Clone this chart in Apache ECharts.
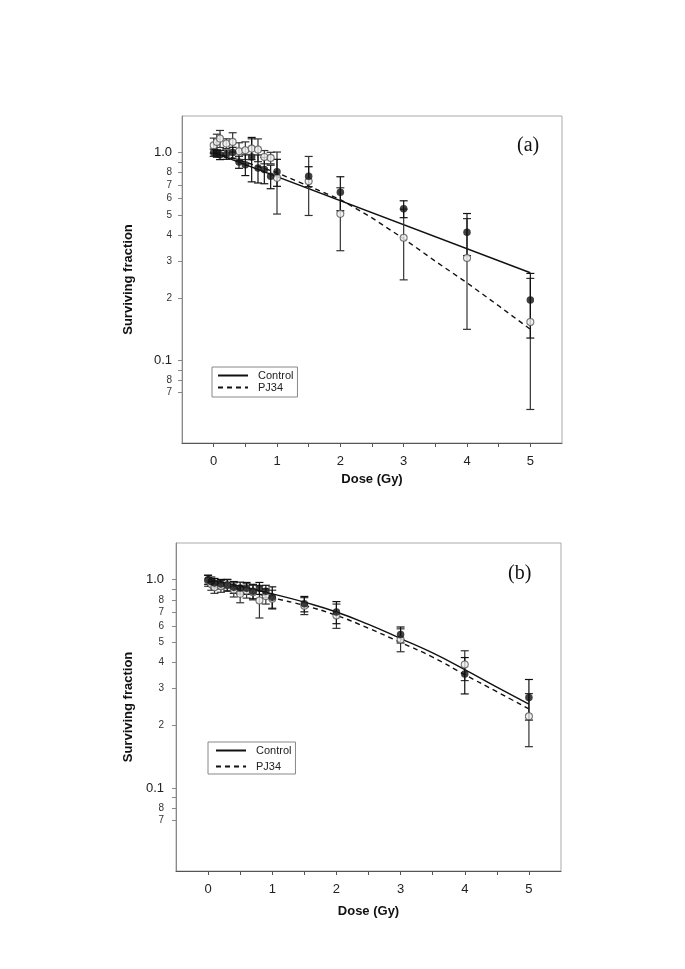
<!DOCTYPE html>
<html>
<head>
<meta charset="utf-8">
<script src="https://cdn.jsdelivr.net/npm/echarts@6/dist/echarts.min.js"></script>
<style>
html,body{margin:0;padding:0;background:#fff;}
#chart{width:685px;height:969px;}
</style>
</head>
<body>
<div id="chart"></div>
<script>
// ---------- data ----------
const doses = [0, 0.05, 0.1, 0.2, 0.3, 0.4, 0.5, 0.6, 0.7, 0.8, 0.9, 1.0, 1.5, 2, 3, 4, 5];

// panel (a)
const ctrlA    = [1.0, 0.99, 0.975, 0.978, 1.0, 0.90, 0.875, 0.953, 0.844, 0.828, 0.77, 0.808, 0.77, 0.645, 0.536, 0.414, 0.195];
const ctrlErrA = [0.04, 0.04, 0.05, 0.05, 0.06, 0.06, 0.10, 0.23, 0.13, 0.12, 0.10, 0.12, 0.085, 0.12, 0.05, 0.095, 0.067];
const pjA      = [1.084, 1.126, 1.168, 1.105, 1.126, 1.015, 1.026, 1.045, 1.034, 0.953, 0.943, 0.756, 0.728, 0.507, 0.389, 0.311, 0.153];
const pjErrA   = [0.09, 0.10, 0.11, 0.06, 0.12, 0.10, 0.10, 0.12, 0.13, 0.07, 0.06, 0.25, 0.23, 0.17, 0.145, 0.17, 0.095];

// panel (b)
const ctrlB    = [1.0, 0.98, 0.964, 0.953, 0.944, 0.92, 0.913, 0.91, 0.88, 0.91, 0.88, 0.824, 0.766, 0.70, 0.545, 0.353, 0.272];
const ctrlErrB = [0.05, 0.05, 0.05, 0.05, 0.06, 0.06, 0.06, 0.06, 0.07, 0.06, 0.06, 0.10, 0.065, 0.085, 0.048, 0.07, 0.06];
const pjB      = [0.99, 0.95, 0.92, 0.93, 0.94, 0.896, 0.855, 0.886, 0.87, 0.795, 0.834, 0.81, 0.75, 0.674, 0.516, 0.392, 0.221];
const pjErrB   = [0.06, 0.06, 0.06, 0.06, 0.06, 0.07, 0.08, 0.07, 0.07, 0.14, 0.07, 0.08, 0.07, 0.09, 0.065, 0.064, 0.063];

// fitted curves
const fitDosesA  = [0, 5];
const fitCtrlA   = [1.0, 0.264];
const fitDoses   = [0, 0.5, 1, 1.5, 2, 2.5, 3, 3.5, 4, 4.5, 5];
const fitPjA     = [1.0, 0.90, 0.80, 0.69, 0.594, 0.485, 0.385, 0.30, 0.236, 0.183, 0.141];
const fitCtrlB   = [1.0, 0.93, 0.855, 0.78, 0.70, 0.61, 0.522, 0.445, 0.37, 0.305, 0.253];
const fitPjB     = [0.98, 0.90, 0.82, 0.752, 0.674, 0.585, 0.50, 0.425, 0.35, 0.29, 0.24];

// axes
const xTickLabels = [0, 1, 2, 3, 4, 5];
const xTicks      = [0, 0.5, 1, 1.5, 2, 2.5, 3, 3.5, 4, 4.5, 5];
const yTickLabels = [1, 0.8, 0.7, 0.6, 0.5, 0.4, 0.3, 0.2, 0.1, 0.08, 0.07];
const yTicks      = [1, 0.9, 0.8, 0.7, 0.6, 0.5, 0.4, 0.3, 0.2, 0.1, 0.09, 0.08, 0.07];
const legendNames = ['Control', 'PJ34'];
const panelLabels = ['(a)', '(b)'];

// ---------- helpers ----------
const pairs = (xs, ys) => xs.map((x, i) => [x, ys[i]]);
const errData = (xs, ys, es) => xs.map((x, i) => [x, ys[i] - es[i], ys[i] + es[i]]);

function errRender(color) {
  return function (params, api) {
    const x = api.value(0), lo = api.value(1), hi = api.value(2);
    const a = api.coord([x, lo]), b = api.coord([x, hi]);
    const w = 4;
    const st = { stroke: color, lineWidth: 1.2 };
    return {
      type: 'group',
      children: [
        { type: 'line', shape: { x1: a[0], y1: a[1], x2: b[0], y2: b[1] }, style: st },
        { type: 'line', shape: { x1: a[0] - w, y1: a[1], x2: a[0] + w, y2: a[1] }, style: st },
        { type: 'line', shape: { x1: b[0] - w, y1: b[1], x2: b[0] + w, y2: b[1] }, style: st }
      ]
    };
  };
}

function yFmt(v) {
  if (Math.abs(v - 1) < 1e-9) return '{big|1.0}';
  if (Math.abs(v - 0.1) < 1e-9) return '{big|0.1}';
  const e = Math.floor(Math.log10(v) + 1e-9);
  return '{small|' + Math.round(v / Math.pow(10, e)) + '}';
}

const FONT = 'Liberation Sans, Arial, sans-serif';

const grids = [
  { left: 182, top: 116, width: 380, height: 327 },
  { left: 176, top: 543, width: 385, height: 328 }
];

function xAxisFor(i, nameGap) {
  return {
    type: 'value', gridIndex: i, min: -0.5, max: 5.5,
    name: 'Dose (Gy)', nameLocation: 'middle', nameGap: nameGap,
    nameTextStyle: { fontFamily: FONT, fontWeight: 'bold', fontSize: 13, color: '#111' },
    axisLine: { show: true, onZero: false, lineStyle: { color: '#555', width: 1 } },
    axisTick: { show: true, length: 4, customValues: xTicks, lineStyle: { color: '#555' } },
    axisLabel: { customValues: xTickLabels, margin: 12, fontFamily: FONT, fontSize: 13, color: '#222' },
    splitLine: { show: false }
  };
}
function yAxisFor(i, nameGap, margin) {
  return {
    type: 'log', logBase: 10, gridIndex: i, min: 0.04, max: 1.5,
    name: 'Surviving fraction', nameLocation: 'middle', nameGap: nameGap,
    nameTextStyle: { fontFamily: FONT, fontWeight: 'bold', fontSize: 13, color: '#111' },
    axisLine: { show: true, onZero: false, lineStyle: { color: '#888', width: 1 } },
    axisTick: { show: true, length: 4, customValues: yTicks, lineStyle: { color: '#888' } },
    axisLabel: {
      customValues: yTickLabels, margin: margin, formatter: yFmt,
      rich: {
        big: { fontFamily: FONT, fontSize: 13, color: '#222' },
        small: { fontFamily: FONT, fontSize: 10, color: '#333' }
      }
    },
    splitLine: { show: false }, minorTick: { show: false }
  };
}

function panelSeries(i, fitCtrlX, fitCtrlY, fitPjX, fitPjY, c, ce, p, pe, smooth) {
  return [
    { name: 'Control', type: 'line', xAxisIndex: i, yAxisIndex: i, data: pairs(fitCtrlX, fitCtrlY),
      symbol: 'none', smooth: smooth, itemStyle: { color: '#111' },
      lineStyle: { color: '#111', width: 1.4, type: 'solid' }, z: 3, silent: true },
    { name: 'PJ34', type: 'line', xAxisIndex: i, yAxisIndex: i, data: pairs(fitPjX, fitPjY),
      symbol: 'none', smooth: smooth, itemStyle: { color: '#111' },
      lineStyle: { color: '#111', width: 1.4, type: [5, 4] }, z: 3, silent: true },
    { name: 'pjErr' + i, type: 'custom', xAxisIndex: i, yAxisIndex: i, data: errData(doses, p, pe),
      renderItem: errRender('#333'), encode: { x: 0, y: [1, 2] }, z: 4, silent: true },
    { name: 'ctrlErr' + i, type: 'custom', xAxisIndex: i, yAxisIndex: i, data: errData(doses, c, ce),
      renderItem: errRender('#111'), encode: { x: 0, y: [1, 2] }, z: 4, silent: true },
    { name: 'pjPts' + i, type: 'scatter', xAxisIndex: i, yAxisIndex: i, data: pairs(doses, p),
      symbol: 'circle', symbolSize: 7, itemStyle: { color: '#eee', borderColor: '#555', borderWidth: 1.1 }, z: 5 },
    { name: 'ctrlPts' + i, type: 'scatter', xAxisIndex: i, yAxisIndex: i, data: pairs(doses, c),
      symbol: 'circle', symbolSize: 7.5, itemStyle: { color: '#111' }, z: 6 }
  ];
}

const legendCommon = {
  orient: 'vertical', data: legendNames, itemWidth: 30, itemHeight: 8,
  borderColor: '#888', borderWidth: 1, backgroundColor: '#fff', borderRadius: 0,
  itemStyle: { opacity: 0 },
  textStyle: { fontFamily: FONT, fontSize: 11, color: '#222', padding: [0, 0, 0, 5] },
  selectedMode: false, inactiveColor: '#111'
};

const option = {
  backgroundColor: '#fff',
  animation: false,
  grid: grids.map(g => Object.assign({ show: true, borderColor: '#aaa', borderWidth: 1, backgroundColor: 'transparent', containLabel: false }, g)),
  xAxis: [xAxisFor(0, 30), xAxisFor(1, 34)],
  yAxis: [yAxisFor(0, 47, 10), yAxisFor(1, 41, 12)],
  legend: [
    Object.assign({}, legendCommon, { left: 212, top: 367, itemGap: 1, padding: [3, 4, 4, 5] }),
    Object.assign({}, legendCommon, { left: 208, top: 742, itemGap: 5, padding: [3, 4, 2, 7] })
  ],
  graphic: [
    { type: 'text', left: 517, top: 136, style: { text: panelLabels[0], font: '20px "Liberation Serif", "Times New Roman", serif', fill: '#111' } },
    { type: 'text', left: 508, top: 564, style: { text: panelLabels[1], font: '20px "Liberation Serif", "Times New Roman", serif', fill: '#111' } }
  ],
  series: [].concat(
    panelSeries(0, fitDosesA, fitCtrlA, fitDoses, fitPjA, ctrlA, ctrlErrA, pjA, pjErrA, false),
    panelSeries(1, fitDoses, fitCtrlB, fitDoses, fitPjB, ctrlB, ctrlErrB, pjB, pjErrB, true)
  )
};

const chart = echarts.init(document.getElementById('chart'), null, { renderer: 'canvas' });
chart.setOption(option);
</script>
</body>
</html>
